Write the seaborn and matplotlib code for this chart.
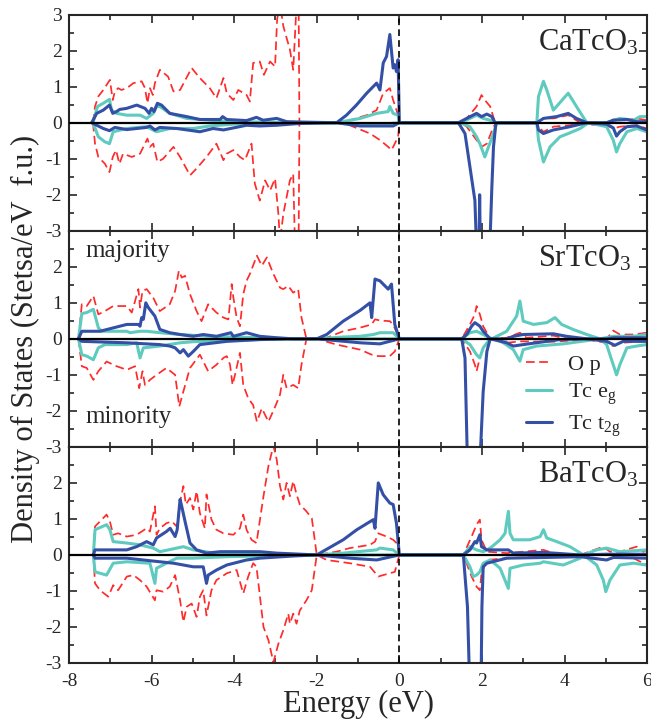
import numpy as np
import pandas as pd
import seaborn as sns
import matplotlib
matplotlib.use("Agg")
import matplotlib.pyplot as plt
from matplotlib.ticker import MultipleLocator

# -------------------------
# Data: (energy eV, DOS states/eV f.u.)
# majority = positive, minority = negative
# -------------------------

ca_op_up = [(-7.42, 0), (-7.37, 0.45), (-7.29, 0.73), (-7.17, 0.91), (-7.01, 1.19), (-6.94, 0.63), (-6.89, 0.87),
            (-6.81, 0.96), (-6.73, 0.91), (-6.60, 0.96), (-6.44, 1.10), (-6.24, 1.15), (-6.16, 0.96), (-6.10, 0.54),
            (-6.04, 0.96), (-5.97, 0.77), (-5.92, 1.10), (-5.80, 1.47), (-5.60, 1.28), (-5.47, 0.87), (-5.31, 0.91),
            (-5.03, 1.52), (-4.83, 1.24), (-4.59, 0.96), (-4.43, 0.68), (-4.26, 1.24), (-4.18, 0.82), (-4.02, 0.63),
            (-3.90, 0.91), (-3.70, 0.77), (-3.62, 0.59), (-3.54, 1.66), (-3.38, 1.70), (-3.28, 1.33), (-3.13, 1.70),
            (-3.01, 1.56), (-2.96, 2.87), (-2.89, 3.30), (-2.81, 2.68), (-2.65, 2.03), (-2.57, 1.47), (-2.50, 3.05),
            (-2.46, 7.0), (-2.42, 0.0), (-1.52, 0.0), (-1.20, 0.07), (-0.79, 0.21), (-0.55, 0.35), (-0.39, 0.82),
            (-0.23, 0.96), (-0.15, 0.63), (-0.07, 0.35), (-0.03, 0.21), (0.0, 0.0), (1.50, 0.0), (1.63, 0.12),
            (1.87, 0.45), (1.99, 0.77), (2.07, 0.63), (2.20, 0.45), (2.32, 0.0), (3.33, 0.0), (3.49, 0.12),
            (3.73, 0.12), (4.09, 0.21), (4.38, 0.0), (5.02, 0.0), (5.18, 0.09), (5.42, 0.06), (5.75, 0.12), (5.99, 0.07)]
ca_op_dn = [(-7.42, 0), (-7.37, -0.58), (-7.29, -0.95), (-7.13, -1.14), (-7.02, -1.37), (-6.94, -0.95), (-6.86, -0.76),
            (-6.78, -1.14), (-6.69, -0.86), (-6.48, -0.95), (-6.28, -0.86), (-6.10, -0.44), (-6.04, -0.67),
            (-5.96, -0.58), (-5.86, -1.09), (-5.72, -1.00), (-5.47, -0.67), (-5.31, -0.95), (-5.07, -1.46),
            (-4.91, -1.27), (-4.67, -0.95), (-4.43, -0.58), (-4.26, -1.04), (-4.18, -0.86), (-4.02, -0.76),
            (-3.86, -0.95), (-3.74, -1.04), (-3.58, -0.58), (-3.50, -1.69), (-3.38, -2.16), (-3.25, -1.60),
            (-3.13, -1.88), (-3.01, -1.55), (-2.93, -2.53), (-2.89, -3.30), (-2.81, -2.53), (-2.65, -1.60),
            (-2.57, -1.42), (-2.53, -3.30), (-2.46, -7.0), (-2.42, 0.0), (-1.52, 0.0), (-1.20, -0.07), (-0.71, -0.30),
            (-0.47, -0.48), (-0.27, -0.67), (-0.19, -0.76), (-0.11, -0.58), (-0.03, -0.39), (0.0, 0.0), (1.50, 0.0),
            (1.63, -0.11), (1.87, -0.48), (1.99, -0.67), (2.12, -0.58), (2.28, -0.11), (2.36, 0.0), (3.33, 0.0),
            (3.37, -0.11), (3.49, -0.25), (3.73, -0.11), (4.38, -0.04), (5.02, -0.07), (5.18, -0.16), (5.34, -0.11),
            (5.75, -0.07), (5.99, -0.16)]
ca_eg_up = [(-7.42, 0), (-7.31, 0.45), (-7.17, 0.54), (-7.02, 0.65), (-6.97, 0.35), (-6.85, 0.26), (-6.60, 0.21),
            (-6.28, 0.21), (-6.12, 0.12), (-5.96, 0.26), (-5.88, 0.45), (-5.80, 0.45), (-5.56, 0.26), (-5.15, 0.12),
            (-4.59, 0.07), (-4.02, 0.03), (-3.38, 0.02), (-2.41, 0.0), (-1.52, 0.0), (-0.95, 0.12), (-0.55, 0.26),
            (-0.27, 0.31), (-0.23, 0.45), (-0.15, 0.26), (-0.03, 0.21), (0.0, 0.0), (1.47, 0.0), (1.71, 0.12),
            (1.87, 0.21), (2.03, 0.12), (2.20, 0.07), (2.32, 0.0), (3.33, 0.0), (3.37, 0.73), (3.49, 1.15),
            (3.57, 0.91), (3.73, 0.35), (4.05, 0.77), (4.09, 0.82), (4.29, 0.45), (4.54, 0.0), (5.02, 0.0),
            (5.34, 0.12), (5.67, 0.07), (5.83, 0.17), (5.99, 0.17)]
ca_eg_dn = [(-7.42, 0), (-7.29, -0.39), (-7.13, -0.53), (-7.02, -0.58), (-6.93, -0.25), (-6.60, -0.16), (-6.12, -0.11),
            (-5.88, -0.25), (-5.56, -0.16), (-4.99, -0.16), (-4.59, -0.09), (-4.02, -0.04), (-3.38, -0.02),
            (-2.41, 0.0), (-1.52, 0.0), (-0.55, -0.05), (0.0, 0.0), (1.47, 0.0), (1.71, -0.11), (1.87, -0.39),
            (1.95, -0.58), (2.07, -0.95), (2.16, -0.67), (2.28, -0.30), (2.36, 0.0), (3.33, 0.0), (3.37, -0.48),
            (3.49, -1.09), (3.65, -0.67), (3.89, -0.39), (4.09, -0.30), (4.38, -0.16), (4.58, 0.0), (5.02, -0.11),
            (5.18, -0.48), (5.26, -0.81), (5.34, -0.58), (5.51, -0.25), (5.75, -0.16), (5.99, -0.25)]
ca_t2g_up = [(-7.45, 0), (-7.33, 0.26), (-7.17, 0.35), (-7.02, 0.49), (-6.94, 0.26), (-6.85, 0.31), (-6.77, 0.37),
             (-6.60, 0.40), (-6.36, 0.49), (-6.16, 0.40), (-6.06, 0.26), (-6.00, 0.40), (-5.94, 0.31), (-5.86, 0.54),
             (-5.76, 0.49), (-5.56, 0.26), (-5.15, 0.17), (-4.83, 0.09), (-4.34, 0.09), (-4.28, 0.17), (-4.18, 0.09),
             (-3.70, 0.06), (-3.46, 0.15), (-3.30, 0.07), (-2.97, 0.12), (-2.73, 0.03), (-2.41, 0.02), (-1.52, 0.0),
             (-1.28, 0.21), (-1.04, 0.49), (-0.79, 0.82), (-0.55, 1.10), (-0.47, 0.91), (-0.39, 1.66), (-0.31, 1.84),
             (-0.23, 2.45), (-0.15, 1.52), (-0.11, 1.61), (-0.07, 1.42), (-0.03, 1.75), (0.0, 0.0), (1.43, 0.0),
             (1.63, 0.12), (1.87, 0.26), (1.99, 0.17), (2.12, 0.24), (2.24, 0.17), (2.32, 0.0), (3.33, 0.0),
             (3.49, 0.12), (3.81, 0.17), (4.09, 0.26), (4.29, 0.12), (4.54, 0.0), (5.02, 0.0), (5.18, 0.07),
             (5.51, 0.09), (5.75, 0.03), (5.99, 0.03)]
ca_t2g_dn = [(-7.45, 0), (-7.17, -0.16), (-7.02, -0.22), (-6.89, -0.13), (-6.60, -0.19), (-6.12, -0.13),
             (-6.04, -0.09), (-5.92, -0.20), (-5.80, -0.13), (-5.39, -0.16), (-4.83, -0.25), (-4.51, -0.16),
             (-4.26, -0.20), (-3.70, -0.07), (-3.38, -0.09), (-2.97, -0.07), (-2.41, -0.02), (-1.52, 0.0),
             (-0.95, -0.09), (-0.15, -0.09), (0.0, 0.0), (1.43, 0.0), (1.59, -0.30), (1.71, -1.23), (1.83, -2.16),
             (1.87, -3.5), (1.93, -3.5), (1.945, -2.0), (1.96, -3.5), (2.19, -3.5), (2.24, -1.80), (2.28, -0.67),
             (2.34, 0.0), (3.33, 0.0), (3.37, -0.20), (3.49, -0.30), (3.73, -0.20), (4.09, -0.12), (4.54, 0.0),
             (5.02, -0.04), (5.18, -0.14), (5.26, -0.37), (5.34, -0.25), (5.51, -0.11), (5.75, -0.09), (5.99, -0.20)]

sr_op_up = [(-7.77, 0), (-7.69, 0.96), (-7.57, 0.91), (-7.41, 1.19), (-7.29, 0.68), (-7.13, 0.77), (-6.93, 0.91),
            (-6.60, 0.91), (-6.48, 0.73), (-6.40, 1.05), (-6.32, 1.38), (-6.28, 0.87), (-6.22, 1.33), (-6.12, 1.38),
            (-5.96, 1.14), (-5.80, 0.77), (-5.56, 0.96), (-5.43, 1.33), (-5.34, 1.89), (-5.27, 1.70), (-5.19, 1.75),
            (-5.07, 1.24), (-4.91, 0.77), (-4.79, 0.49), (-4.63, 0.96), (-4.43, 0.73), (-4.26, 0.59), (-4.14, 0.54),
            (-4.06, 1.52), (-4.02, 1.15), (-3.94, 0.59), (-3.86, 0.35), (-3.78, 1.24), (-3.70, 1.61), (-3.62, 1.80),
            (-3.45, 2.31), (-3.33, 2.03), (-3.21, 2.26), (-3.05, 1.80), (-2.89, 1.42), (-2.81, 1.38), (-2.69, 1.47),
            (-2.57, 1.28), (-2.45, 1.38), (-2.37, 0.59), (-2.25, 0.0), (-2.00, 0.0), (-1.76, 0.03), (-1.36, 0.21),
            (-0.95, 0.31), (-0.67, 0.40), (-0.59, 0.54), (-0.47, 0.51), (-0.23, 0.49), (-0.15, 0.40), (0.0, 0.0),
            (1.51, 0.0), (1.71, 0.40), (1.83, 0.68), (1.87, 0.91), (1.95, 0.68), (2.03, 0.35), (2.20, 0.0),
            (2.60, 0.03), (2.92, 0.17), (3.08, 0.03), (3.73, 0.09), (4.05, 0.0), (5.02, 0.0), (5.18, 0.23),
            (5.34, 0.12), (5.67, 0.12), (5.99, 0.17)]
sr_op_dn = [(-7.77, 0), (-7.69, -0.76), (-7.57, -0.81), (-7.41, -1.14), (-7.29, -0.90), (-7.09, -0.63), (-6.85, -0.76),
            (-6.60, -0.86), (-6.40, -0.76), (-6.30, -1.37), (-6.22, -0.90), (-6.16, -1.28), (-6.04, -1.14),
            (-5.88, -1.00), (-5.64, -0.81), (-5.43, -1.00), (-5.33, -1.88), (-5.23, -1.46), (-5.07, -0.81),
            (-4.83, -0.44), (-4.63, -0.90), (-4.43, -0.72), (-4.26, -0.53), (-4.18, -0.48), (-4.10, -0.72),
            (-4.04, -1.28), (-3.98, -1.00), (-3.86, -0.39), (-3.78, -1.28), (-3.66, -1.65), (-3.54, -1.84),
            (-3.45, -2.30), (-3.33, -1.93), (-3.17, -2.30), (-3.01, -1.89), (-2.89, -1.55), (-2.81, -1.00),
            (-2.73, -1.37), (-2.57, -1.28), (-2.45, -1.37), (-2.37, -0.72), (-2.25, 0.0), (-2.00, 0.0),
            (-1.52, -0.16), (-0.95, -0.30), (-0.67, -0.44), (-0.51, -0.48), (-0.23, -0.48), (-0.11, -0.35),
            (0.0, 0.0), (1.51, 0.0), (1.71, -0.35), (1.83, -0.72), (1.87, -0.90), (1.95, -0.53), (2.03, -0.25),
            (2.20, 0.0), (2.60, -0.11), (2.92, -0.07), (3.73, -0.08), (4.54, -0.02), (5.02, -0.11), (5.18, -0.20),
            (5.34, -0.11), (5.99, -0.07)]
sr_eg_up = [(-7.77, 0), (-7.69, 0.70), (-7.57, 0.73), (-7.41, 0.82), (-7.29, 0.31), (-7.21, 0.21), (-6.60, 0.21),
            (-6.52, 0.17), (-6.28, 0.21), (-6.12, 0.21), (-5.80, 0.17), (-5.31, 0.12), (-4.59, 0.07), (-4.02, 0.05),
            (-3.38, 0.03), (-2.57, 0.0), (-2.00, 0.0), (-1.36, 0.05), (-0.95, 0.07), (-0.63, 0.12), (-0.47, 0.17),
            (-0.15, 0.17), (0.0, 0.0), (1.51, 0.0), (1.71, 0.17), (1.87, 0.21), (2.03, 0.12), (2.24, 0.0),
            (2.60, 0.21), (2.84, 0.63), (2.92, 1.05), (3.00, 0.49), (3.25, 0.40), (3.57, 0.45), (3.77, 0.59),
            (3.93, 0.40), (4.21, 0.26), (4.54, 0.12), (4.86, 0.0), (5.18, 0.07), (5.67, 0.07), (5.99, 0.12)]
sr_eg_dn = [(-7.77, 0), (-7.69, -0.44), (-7.57, -0.48), (-7.41, -0.58), (-7.29, -0.25), (-7.13, -0.16), (-6.60, -0.16),
            (-6.36, -0.11), (-6.28, -0.53), (-6.20, -0.25), (-5.80, -0.20), (-5.31, -0.11), (-4.99, -0.08),
            (-4.18, -0.05), (-3.38, -0.02), (-2.57, 0.0), (-2.00, 0.0), (0.0, 0.0), (1.51, 0.0), (1.71, -0.16),
            (1.87, -0.44), (1.95, -0.53), (2.03, -0.25), (2.20, 0.0), (2.32, 0.0), (2.52, -0.11), (2.76, -0.30),
            (2.92, -0.62), (3.00, -0.30), (3.33, -0.20), (3.97, -0.14), (4.54, -0.05), (4.86, 0.0), (5.02, -0.16),
            (5.18, -0.72), (5.26, -1.00), (5.34, -0.72), (5.51, -0.25), (5.75, -0.20), (5.99, -0.16)]
sr_t2g_up = [(-7.77, 0), (-7.69, 0.21), (-7.25, 0.21), (-6.60, 0.40), (-6.32, 0.40), (-6.28, 0.35), (-6.24, 0.59),
             (-6.20, 0.54), (-6.14, 1.00), (-6.08, 0.87), (-5.92, 0.63), (-5.80, 0.26), (-5.56, 0.17), (-5.31, 0.12),
             (-4.99, 0.07), (-4.75, 0.12), (-4.43, 0.07), (-4.08, 0.17), (-4.02, 0.07), (-3.70, 0.17), (-3.38, 0.07),
             (-2.97, 0.03), (-2.57, 0.0), (-2.00, 0.0), (-1.76, 0.12), (-1.36, 0.49), (-0.95, 0.79), (-0.71, 1.00),
             (-0.67, 0.59), (-0.59, 1.66), (-0.47, 1.61), (-0.27, 1.38), (-0.19, 1.52), (-0.11, 0.40), (0.0, 0.0),
             (1.51, 0.0), (1.63, 0.12), (1.75, 0.35), (1.83, 0.45), (1.95, 0.35), (2.03, 0.21), (2.20, 0.0),
             (2.60, 0.0), (2.76, 0.07), (3.00, 0.12), (3.73, 0.14), (4.05, 0.07), (4.54, 0.0), (5.02, 0.0),
             (5.18, 0.03), (5.99, 0.03)]
sr_t2g_dn = [(-7.77, 0), (-7.69, -0.07), (-6.60, -0.11), (-5.80, -0.16), (-5.56, -0.20), (-5.43, -0.25),
             (-5.31, -0.39), (-5.23, -0.30), (-5.11, -0.48), (-4.99, -0.35), (-4.83, -0.16), (-4.18, -0.07),
             (-3.38, -0.02), (-2.57, 0.0), (-2.00, 0.0), (-0.95, -0.11), (-0.47, -0.14), (0.0, 0.0), (1.51, 0.0),
             (1.59, -0.53), (1.65, -3.5), (1.95, -3.5), (2.03, -1.47), (2.12, -0.35), (2.20, 0.0), (2.60, -0.11),
             (2.76, -0.20), (3.00, -0.16), (3.57, -0.07), (3.89, -0.02), (4.54, 0.0), (5.02, -0.07), (5.22, -0.18),
             (5.42, -0.07), (5.99, -0.07)]

ba_op_up = [(-7.41, 0), (-7.37, 0.79), (-7.25, 0.93), (-7.09, 1.12), (-7.01, 0.93), (-6.93, 0.56), (-6.81, 0.60),
            (-6.60, 0.51), (-6.36, 0.56), (-6.12, 0.74), (-6.04, 0.65), (-5.92, 1.35), (-5.88, 0.56), (-5.80, 0.74),
            (-5.64, 0.88), (-5.51, 0.93), (-5.39, 0.79), (-5.30, 1.54), (-5.23, 1.91), (-5.17, 1.40), (-5.07, 1.58),
            (-4.99, 1.26), (-4.91, 1.77), (-4.83, 1.16), (-4.71, 0.74), (-4.67, 1.68), (-4.55, 0.98), (-4.43, 0.70),
            (-4.26, 0.60), (-4.02, 0.56), (-3.86, 0.74), (-3.78, 1.12), (-3.70, 0.70), (-3.58, 0.42), (-3.46, 0.33),
            (-3.29, 1.63), (-3.17, 2.47), (-3.05, 3.03), (-2.97, 2.65), (-2.89, 1.91), (-2.81, 1.54), (-2.73, 2.00),
            (-2.65, 1.63), (-2.57, 2.05), (-2.49, 1.68), (-2.41, 1.40), (-2.25, 1.21), (-2.12, 1.02), (-2.00, 0.0),
            (-1.52, 0.09), (-1.20, 0.19), (-0.71, 0.28), (-0.59, 0.37), (-0.51, 0.60), (-0.31, 0.51), (-0.15, 0.42),
            (-0.07, 0.33), (0.0, 0.0), (1.55, 0.0), (1.75, 0.51), (1.87, 0.84), (1.95, 0.98), (1.99, 0.42),
            (2.12, 0.09), (2.60, 0.05), (3.49, 0.14), (3.73, 0.05), (4.38, 0.0), (4.94, 0.23), (5.10, 0.09),
            (5.34, 0.09), (5.75, 0.23), (5.91, 0.09), (5.99, 0.14)]
ba_op_dn = [(-7.41, 0), (-7.37, -0.79), (-7.25, -0.98), (-7.05, -1.16), (-6.93, -0.84), (-6.81, -0.98), (-6.60, -0.60),
            (-6.44, -0.56), (-6.28, -0.70), (-6.12, -0.88), (-5.92, -1.26), (-5.88, -0.98), (-5.72, -1.02),
            (-5.56, -0.88), (-5.43, -0.56), (-5.31, -1.26), (-5.23, -1.86), (-5.15, -1.44), (-5.03, -1.35),
            (-4.91, -1.72), (-4.83, -1.16), (-4.75, -0.98), (-4.67, -1.68), (-4.55, -0.98), (-4.43, -0.70),
            (-4.18, -0.51), (-3.94, -0.42), (-3.78, -1.07), (-3.66, -0.60), (-3.54, -0.23), (-3.46, -0.33),
            (-3.29, -2.00), (-3.17, -2.37), (-3.05, -2.98), (-2.93, -2.47), (-2.81, -2.09), (-2.69, -1.63),
            (-2.65, -1.91), (-2.57, -1.63), (-2.49, -1.91), (-2.41, -1.54), (-2.25, -1.26), (-2.12, -0.98),
            (-2.00, 0.0), (-1.76, -0.14), (-1.20, -0.23), (-0.71, -0.33), (-0.51, -0.60), (-0.39, -0.56),
            (-0.23, -0.51), (-0.11, -0.47), (0.0, 0.0), (1.55, 0.0), (1.75, -0.60), (1.87, -0.88), (1.95, -0.98),
            (1.99, -0.51), (2.12, -0.14), (2.60, -0.09), (3.57, -0.05), (4.38, 0.0), (4.94, -0.14), (5.18, -0.09),
            (5.67, -0.09), (5.99, -0.28)]
ba_eg_up = [(-7.41, 0), (-7.37, 0.70), (-7.09, 0.84), (-7.01, 0.70), (-6.93, 0.37), (-6.60, 0.33), (-6.28, 0.28),
            (-5.96, 0.19), (-5.80, 0.09), (-5.39, 0.19), (-5.23, 0.23), (-4.99, 0.14), (-4.59, 0.07), (-4.02, 0.03),
            (-2.57, 0.0), (-2.00, 0.0), (-1.36, 0.05), (-0.55, 0.14), (-0.47, 0.19), (-0.15, 0.14), (0.0, 0.0),
            (1.55, 0.0), (1.71, 0.23), (1.87, 0.14), (2.03, 0.09), (2.20, 0.19), (2.44, 0.42), (2.56, 0.60),
            (2.64, 1.21), (2.68, 0.60), (2.76, 0.42), (3.16, 0.42), (3.41, 0.51), (3.49, 0.70), (3.57, 0.47),
            (3.81, 0.37), (4.13, 0.23), (4.46, 0.0), (4.78, 0.14), (5.02, 0.19), (5.34, 0.09), (5.99, 0.14)]
ba_eg_dn = [(-7.41, 0), (-7.37, -0.47), (-7.09, -0.56), (-6.93, -0.23), (-6.60, -0.19), (-6.04, -0.23), (-5.92, -0.79),
            (-5.88, -0.37), (-5.64, -0.23), (-5.39, -0.09), (-4.99, -0.09), (-4.18, -0.05), (-3.38, -0.03),
            (-2.00, 0.0), (0.0, 0.0), (1.55, 0.0), (1.71, -0.33), (1.79, -0.60), (1.87, -0.56), (1.95, -0.47),
            (2.03, -0.23), (2.20, -0.14), (2.44, -0.37), (2.64, -0.93), (2.68, -0.37), (3.00, -0.28), (3.41, -0.23),
            (3.49, -0.19), (3.97, -0.28), (4.38, -0.09), (4.46, 0.0), (4.78, -0.28), (4.94, -0.70), (5.00, -1.02),
            (5.10, -0.70), (5.34, -0.28), (5.67, -0.23), (5.99, -0.28)]
ba_t2g_up = [(-7.41, 0), (-7.37, 0.14), (-6.60, 0.14), (-6.36, 0.23), (-6.12, 0.37), (-5.96, 0.28), (-5.88, 0.47),
             (-5.64, 0.65), (-5.55, 0.74), (-5.43, 0.51), (-5.38, 0.70), (-5.31, 1.54), (-5.27, 1.35), (-5.19, 0.93),
             (-5.07, 0.33), (-4.91, 0.14), (-4.67, 0.05), (-4.34, 0.09), (-3.78, 0.09), (-3.38, 0.09), (-2.97, 0.05),
             (-2.00, 0.0), (-1.36, 0.42), (-1.03, 0.70), (-0.63, 0.98), (-0.59, 0.74), (-0.51, 2.00), (-0.39, 1.67),
             (-0.23, 1.44), (-0.15, 1.40), (-0.07, 0.88), (0.0, 0.0), (1.55, 0.0), (1.71, 0.14), (1.83, 0.37),
             (1.87, 0.33), (1.95, 0.56), (1.99, 0.23), (2.12, 0.14), (2.64, 0.14), (2.76, 0.05), (3.49, 0.07),
             (4.38, 0.0), (5.02, 0.02), (5.99, 0.02)]
ba_t2g_dn = [(-7.41, 0), (-7.37, -0.09), (-6.60, -0.09), (-6.20, -0.14), (-5.80, -0.19), (-5.47, -0.23),
             (-5.23, -0.28), (-4.99, -0.33), (-4.75, -0.33), (-4.67, -0.79), (-4.63, -0.56), (-4.43, -0.42),
             (-4.18, -0.28), (-3.70, -0.14), (-3.38, -0.09), (-2.57, -0.03), (-2.00, 0.0), (-1.20, -0.09),
             (-0.55, -0.14), (0.0, 0.0), (1.55, 0.0), (1.65, -1.44), (1.70, -3.5), (1.98, -3.5), (2.00, -1.44),
             (2.03, -0.33), (2.12, -0.23), (2.60, -0.09), (3.57, -0.07), (4.38, -0.05), (5.02, -0.14), (5.18, -0.07),
             (5.99, -0.09)]

compounds = ['CaTcO$_3$', 'SrTcO$_3$', 'BaTcO$_3$']
orbitals = ['O p', 'Tc e$_\\mathrm{g}$', 'Tc t$_\\mathrm{2g}$']
ytick_labels = ['-3', '-2', '-1', '0', '1', '2', '3']
xtick_labels = ['-8', '-6', '-4', '-2', '0', '2', '4', '6']

panel_data = [
    [(ca_op_up, ca_op_dn), (ca_eg_up, ca_eg_dn), (ca_t2g_up, ca_t2g_dn)],
    [(sr_op_up, sr_op_dn), (sr_eg_up, sr_eg_dn), (sr_t2g_up, sr_t2g_dn)],
    [(ba_op_up, ba_op_dn), (ba_eg_up, ba_eg_dn), (ba_t2g_up, ba_t2g_dn)],
]

# -------------------------
# Style
# -------------------------
sns.set_style("ticks")
plt.rcParams['font.family'] = ['Liberation Serif', 'DejaVu Serif']
plt.rcParams['mathtext.fontset'] = 'custom'
plt.rcParams['mathtext.rm'] = 'Liberation Serif'
plt.rcParams['mathtext.it'] = 'Liberation Serif:italic'
plt.rcParams['axes.unicode_minus'] = False

colors = ['#ff2b2b', '#5fcbbf', '#3450a6']
widths = [1.25, 2.2, 2.2]
styles = [(0, (5, 2.6)), '-', '-']

fig, axes = plt.subplots(3, 1, figsize=(6.51, 7.2), dpi=100, sharex=True)
fig.subplots_adjust(left=0.106, right=0.994, top=0.9796, bottom=0.0792, hspace=0)

for i, ax in enumerate(axes):
    for k, (up, dn) in enumerate(panel_data[i]):
        for j, pts in enumerate((up, dn)):
            df = pd.DataFrame(pts, columns=['E', 'dos'])
            lab = orbitals[k] if (i == 1 and j == 0) else None
            sns.lineplot(data=df, x='E', y='dos', ax=ax, color=colors[k], linewidth=widths[k],
                         linestyle=styles[k], sort=False, estimator=None, legend=False, label=lab)
    ax.axhline(0, color='black', lw=1.6, zorder=5)
    ax.axvline(0, color='black', lw=1.2, ls=(0, (4, 2.5)), zorder=5)

    ax.set_xlim(-8, 6)
    ax.set_ylim(-3, 3)
    ax.set_xlabel('')
    ax.set_ylabel('')
    ax.set_yticks(np.arange(-3, 4))
    if i == 0:
        ax.set_yticklabels(ytick_labels)
    else:
        ax.set_yticklabels(ytick_labels[:-1] + [''])
    ax.yaxis.set_minor_locator(MultipleLocator(0.5))
    ax.set_xticks(np.arange(-8, 7, 2))
    ax.xaxis.set_minor_locator(MultipleLocator(1))
    ax.tick_params(which='both', direction='in', top=True, right=True, width=1.2, labelsize=14)
    ax.tick_params(axis='y', which='major', length=6, pad=5)
    ax.tick_params(axis='y', which='minor', length=3.5)
    ax.tick_params(axis='x', which='major', length=6, pad=7)
    ax.tick_params(axis='x', which='minor', length=3.5)
    for sp in ax.spines.values():
        sp.set_linewidth(1.5)
    ax.text(3.37, 2.0, compounds[i], fontsize=22, ha='left', va='baseline')

axes[2].set_xticklabels(xtick_labels)
axes[2].set_xlabel('Energy (eV)', fontsize=22, labelpad=0)
axes[1].set_ylabel('Density of States (Stetsa/eV  f.u.)', fontsize=22, labelpad=4)

axes[1].text(-7.61, 2.26, 'majority', fontsize=18, ha='left', va='baseline')
axes[1].text(-7.61, -2.35, 'minority', fontsize=18, ha='left', va='baseline')

axes[1].legend(loc='upper left', bbox_to_anchor=(0.79, 0.43), frameon=False, fontsize=16,
               handlelength=1.2, handletextpad=0.7, labelspacing=0.3, borderpad=0, borderaxespad=0)

plt.savefig('out.png', dpi=100)
